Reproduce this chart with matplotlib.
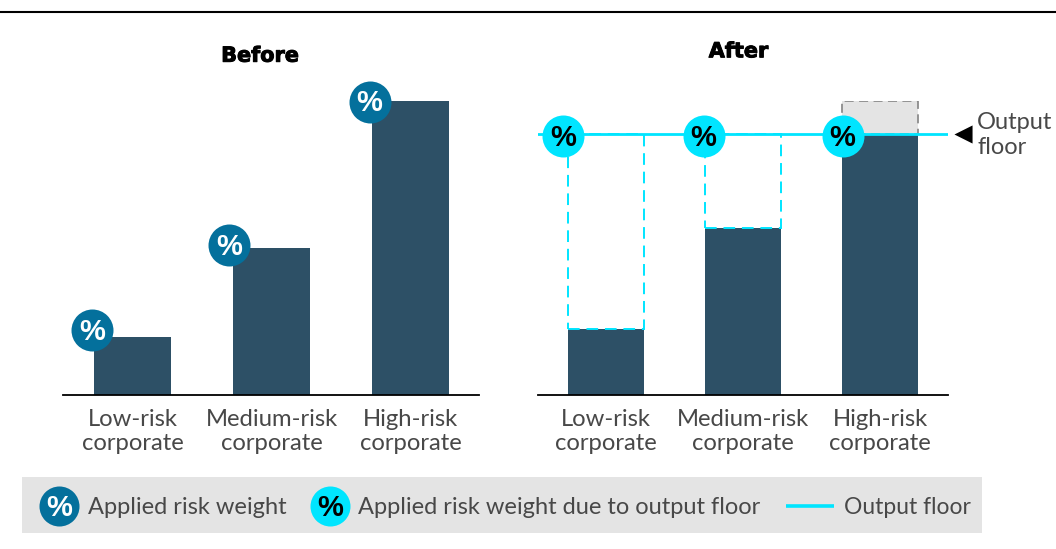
import matplotlib
matplotlib.use("Agg")
import matplotlib.pyplot as plt
from matplotlib.patches import Rectangle
import matplotlib.patheffects as pe

categories = ["Low-risk\ncorporate", "Medium-risk\ncorporate", "High-risk\ncorporate"]
before_values = [19.7, 50, 100]
after_values = [22.4, 56.8, 88.8]
floor_value = 88.8
legend_labels = ["Applied risk weight", "Applied risk weight due to output floor", "Output floor"]

W, H = 1056, 549
NAVY = "#2d5066"
BLUE = "#04709c"
CYAN = "#00e5ff"
GREY = "#e4e4e4"
TEXT = "#484848"

plt.rcParams["font.family"] = ["Lato", "DejaVu Sans"]

fig = plt.figure(figsize=(W / 100, H / 100), dpi=100)


def make_axes(x0, x1):
    # position given in pixels, baseline at y=395 and 100 units = 294 px
    ax = fig.add_axes([x0 / W, 1 - 395 / H, (x1 - x0) / W, 294 / H])
    ax.set_ylim(0, 100)
    ax.patch.set_visible(False)
    for s in ["top", "left", "right"]:
        ax.spines[s].set_visible(False)
    ax.spines["bottom"].set_linewidth(1.3)
    ax.spines["bottom"].set_color("black")
    ax.set_yticks([])
    ax.set_xticks(range(3))
    ax.set_xticklabels(categories, fontsize=17.2, color=TEXT, linespacing=1.2)
    ax.tick_params(axis="x", length=0, pad=10)
    return ax


def percent_text(ax, x, y, fg):
    # glyph sits a little high in the circle, y is in the axes' own units
    ax.annotate("%", (x, y), xytext=(0, 1), textcoords="offset points", color=fg, fontsize=21,
                fontweight="bold", ha="center", va="center_baseline", family="Liberation Sans",
                zorder=7, annotation_clip=False)


def pct(ax, x, y, bg, fg, size=914):
    ax.scatter([x], [y], s=size, color=bg, linewidths=0, zorder=6, clip_on=False)
    percent_text(ax, x, y, fg)


def title(ax, x, y, s):
    ax.text(x, y, s, transform=ax.transAxes, ha="center", va="center", fontsize=15, fontweight="bold",
            family="DejaVu Sans", color="black",
            path_effects=[pe.withStroke(linewidth=0.7, foreground="black")])


# before panel
ax1 = make_axes(63.5, 479.5)
w1 = 0.554
ax1.set_xlim(-0.496, 2.496)
ax1.bar(range(3), before_values, width=w1, color=NAVY, zorder=2)
nudge_x = [-0.011, -0.029, -0.018]
nudge_y = [2.4, 1.0, -0.3]
for i, v in enumerate(before_values):
    pct(ax1, i - w1 / 2 + nudge_x[i], v + nudge_y[i], BLUE, "white")
title(ax1, 0.473, 1.154, "Before")

# after panel
ax2 = make_axes(537.5, 948)
w2 = 0.554
ax2.set_xlim(-0.498, 2.495)
ax2.bar(range(3), after_values, width=w2, color=NAVY, zorder=2)
for i, v in enumerate(after_values):
    if v < floor_value:
        ax2.add_patch(Rectangle((i - w2 / 2, v), w2, floor_value - v, fill=False, edgecolor=CYAN,
                                linewidth=1.4, linestyle=(0, (6, 3.5)), zorder=3))
# the unfloored high-risk bar stays visible above the floor
ax2.add_patch(Rectangle((2 - w2 / 2, floor_value), w2, before_values[2] - floor_value, facecolor=GREY,
                        edgecolor="#8c8c8c", linewidth=1.3, linestyle=(0, (5, 3)), zorder=1))
ax2.axhline(floor_value, color=CYAN, linewidth=2, zorder=4)
nudge_after = [-0.036, -0.01, 0.004]
for i in range(3):
    pct(ax2, i - w2 / 2 + nudge_after[i], floor_value - 0.7, CYAN, "black")
title(ax2, 0.49, 1.169, "After")

# overlay in pixel coordinates: top rule, floor note and legend strip
ov = fig.add_axes([0, 0, 1, 1])
ov.set_xlim(0, W)
ov.set_ylim(H, 0)
ov.axis("off")
ov.patch.set_visible(False)
ov.plot([0, W], [12, 12], color="black", linewidth=1.5)
ov.scatter([963], [134], marker="<", s=170, color="black", linewidths=0)
ov.text(977, 135, "Output\nfloor", fontsize=17, color=TEXT, va="center", ha="left", linespacing=1.25)

ov.add_patch(Rectangle((22, 477), 960, 56, facecolor=GREY, edgecolor="none"))
ov.scatter([59], [506], s=830, color=BLUE, linewidths=0)
percent_text(ov, 59, 506, "white")
ov.scatter([330], [506], s=830, color=CYAN, linewidths=0)
percent_text(ov, 330, 506, "black")
ov.plot([786, 834], [506, 506], color=CYAN, linewidth=2.6, solid_capstyle="butt")
ov.text(88, 507, legend_labels[0], fontsize=17, color=TEXT, va="center")
ov.text(358, 507, legend_labels[1], fontsize=17, color=TEXT, va="center")
ov.text(844, 507, legend_labels[2], fontsize=16.5, color=TEXT, va="center")

fig.savefig("out.png", dpi=100)
